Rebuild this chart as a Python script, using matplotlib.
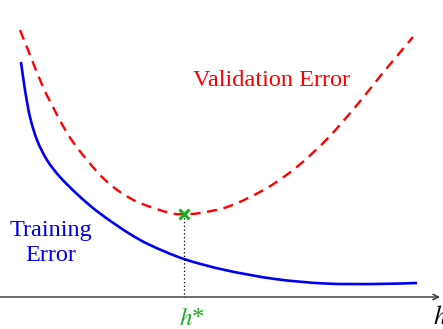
import matplotlib
matplotlib.use("Agg")
import matplotlib.pyplot as plt
from matplotlib.path import Path
from matplotlib.patches import PathPatch

plt.rcParams["mathtext.fontset"] = "stix"

# curve samples (pixel-like units, y downward)
train_x = [21, 25, 30, 37, 47, 60, 77, 93, 109, 130, 150, 184, 225, 275, 325, 375, 417]
train_y = [62, 90, 117, 140, 160, 177, 194, 208, 220, 234, 245, 259, 270, 279, 283.5, 284, 283]

val_x = [20, 28, 43, 53, 63, 73, 87, 103, 120, 140, 170, 185, 200, 230, 267, 298, 328, 357, 382, 413]
val_y = [30, 50, 87, 107, 126, 142, 160, 178, 192, 203, 213, 214, 213, 206, 188, 166, 138, 105, 74, 37]

hstar_x = 184
hstar_y = 214
axis_y = 297


def smooth_path(xs, ys):
    pts = list(zip(xs, ys))
    verts = [pts[0]]
    codes = [Path.MOVETO]
    n = len(pts)
    for i in range(n - 1):
        p0 = pts[i - 1] if i > 0 else pts[i]
        p1 = pts[i]
        p2 = pts[i + 1]
        p3 = pts[i + 2] if i + 2 < n else pts[i + 1]
        c1 = (p1[0] + (p2[0] - p0[0]) / 6, p1[1] + (p2[1] - p0[1]) / 6)
        c2 = (p2[0] - (p3[0] - p1[0]) / 6, p2[1] - (p3[1] - p1[1]) / 6)
        verts += [c1, c2, p2]
        codes += [Path.CURVE4] * 3
    return Path(verts, codes)


fig = plt.figure(figsize=(4.43, 3.29), dpi=100)
ax = fig.add_axes([0, 0, 1, 1])
ax.set_xlim(0, 443)
ax.set_ylim(329, 0)
ax.axis("off")

ax.add_patch(PathPatch(smooth_path(train_x, train_y), fill=False,
                       edgecolor="#0000ee", lw=1.9, capstyle="butt"))
ax.add_patch(PathPatch(smooth_path(val_x, val_y), fill=False,
                       edgecolor="#ff0000", lw=1.7, linestyle=(0, (4.3, 2.8))))

ax.plot([hstar_x, hstar_x], [hstar_y, axis_y], color="black", lw=0.9, ls=(0, (1, 2)))
ax.plot([hstar_x], [hstar_y], marker="x", color="#22aa22", ms=7.5, mew=2.2)

ax.annotate("", xy=(440, axis_y), xytext=(-2, axis_y),
            arrowprops=dict(arrowstyle="->", color="#333333", lw=1.0, shrinkA=0, shrinkB=0))
ax.annotate("", xy=(-1, 14), xytext=(-1, axis_y),
            arrowprops=dict(arrowstyle="->", color="#333333", lw=1.0, shrinkA=0, shrinkB=0))

serif = ["Liberation Serif", "DejaVu Serif"]
ax.text(272, 80, "Validation Error", color="#ff0000", fontsize=17.5, family=serif,
        ha="center", va="center")
ax.text(51, 243, "Training\nError", color="#0000ee", fontsize=17.5, family=serif,
        ha="center", va="center", linespacing=1.2)
ax.text(192, 319, "$h$*", color="#22aa22", fontsize=18, family=serif,
        ha="center", va="center")
ax.text(433, 317, "$h$", color="black", fontsize=19, ha="left", va="center")

fig.savefig("out.png", dpi=100)
